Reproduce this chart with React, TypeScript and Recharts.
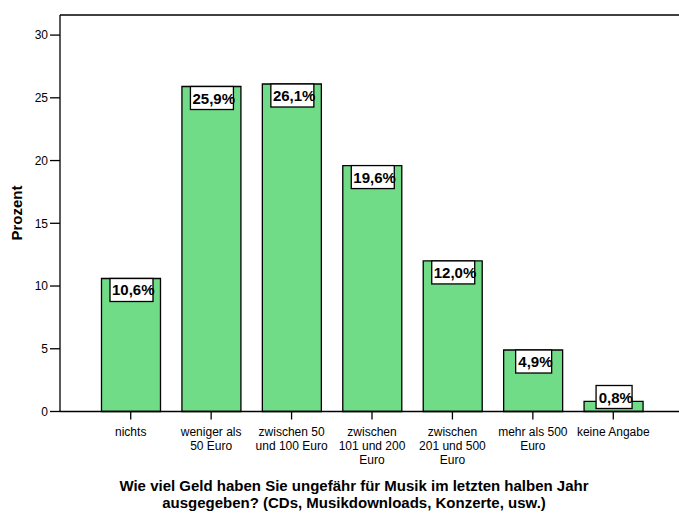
import React from "react"
import { Bar, BarChart, XAxis, YAxis, LabelList, ReferenceLine, Label } from "recharts"

const categories = [
  "nichts",
  "weniger als\n50 Euro",
  "zwischen 50\nund 100 Euro",
  "zwischen\n101 und 200\nEuro",
  "zwischen\n201 und 500\nEuro",
  "mehr als 500\nEuro",
  "keine Angabe",
]
const percent = [10.6, 25.9, 26.1, 19.6, 12.0, 4.9, 0.8]
const percentLabels = ["10,6%", "25,9%", "26,1%", "19,6%", "12,0%", "4,9%", "0,8%"]
const yTicks = [0, 5, 10, 15, 20, 25, 30]

const data = categories.map((name, i) => ({ name, value: percent[i], label: percentLabels[i] }))

const FONT = "'Liberation Sans', Arial, sans-serif"
const BASE_Y = 411.5

function CategoryTick(props: any) {
  const { x, y, payload } = props
  const lines = String(payload.value).split("\n")
  return (
    <text x={x} y={y + 14.5} textAnchor="middle" fontFamily={FONT} fontSize={12} fill="#000">
      {lines.map((l, i) => (
        <tspan key={i} x={x} dy={i === 0 ? 0 : 14}>
          {l}
        </tspan>
      ))}
    </text>
  )
}

function ValueBox(props: any) {
  const { x, y, width, index } = props
  const text = percentLabels[index]
  const w = 7 * text.length + 8
  const h = 23
  const cx = x + width / 2 + 0.5
  const top = Math.min(y, BASE_Y - 26)
  return (
    <g>
      <rect x={cx - w / 2} y={top} width={w} height={h} fill="#fff" stroke="#000" strokeWidth={1.3} />
      <text x={cx + 1.8} y={top + 17} textAnchor="middle" fontFamily={FONT} fontSize={15} fontWeight="bold" fill="#000">
        {text}
      </text>
    </g>
  )
}

export default function App() {
  return (
    <div style={{ position: "absolute", left: 0, top: 0, width: 679, height: 514, overflow: "hidden", background: "#fff" }}>
      <BarChart width={700} height={514} data={data} margin={{ top: 15, right: 16, left: 0, bottom: 2.5 }} barSize={59}>
        <XAxis
          dataKey="name"
          interval={0}
          height={100}
          padding={{ left: 30.5, right: 30.5 }}
          tickSize={8}
          stroke="#000"
          axisLine={{ stroke: "#000", strokeWidth: 1.3 }}
          tickLine={{ stroke: "#000", strokeWidth: 1.3 }}
          tick={<CategoryTick />}
        >
          <Label
            content={() => (
              <text x={354} textAnchor="middle" fontFamily={FONT} fontSize={15} fontWeight="bold" fill="#000">
                <tspan x={354} y={491}>Wie viel Geld haben Sie ungefähr für Musik im letzten halben Jahr</tspan>
                <tspan x={354} y={508}>ausgegeben? (CDs, Musikdownloads, Konzerte, usw.)</tspan>
              </text>
            )}
          />
        </XAxis>
        <YAxis
          width={60}
          domain={[0, 31.6]}
          ticks={yTicks}
          tickSize={10}
          stroke="#000"
          axisLine={{ stroke: "#000", strokeWidth: 1.3 }}
          tickLine={{ stroke: "#000", strokeWidth: 1.3 }}
          tick={{ fontFamily: FONT, fontSize: 12, fill: "#000" }}
        >
          <Label
            content={() => (
              <text
                x={16}
                y={213}
                transform="rotate(-90 16 213)"
                textAnchor="middle"
                dominantBaseline="central"
                fontFamily={FONT}
                fontSize={15}
                fontWeight="bold"
                fill="#000"
              >
                Prozent
              </text>
            )}
          />
        </YAxis>
        <ReferenceLine y={31.6} stroke="#000" strokeWidth={1.3} />
        <Bar dataKey="value" fill="#70DC88" stroke="#000" strokeWidth={1.3} isAnimationActive={false}>
          <LabelList dataKey="label" content={<ValueBox />} />
        </Bar>
      </BarChart>
    </div>
  )
}
